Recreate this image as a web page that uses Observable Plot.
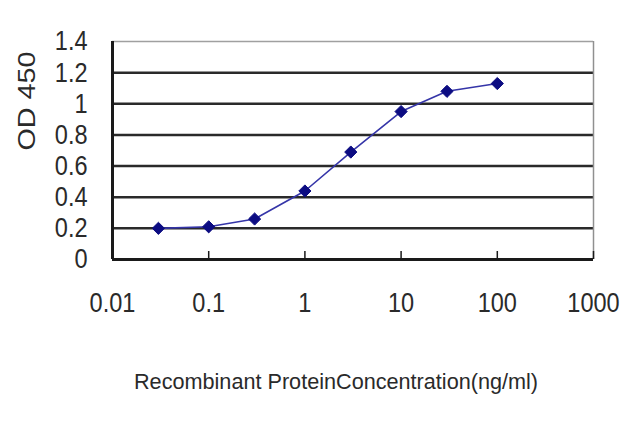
<!DOCTYPE html>
<html>
<head>
<meta charset="utf-8">
<script src="https://cdn.jsdelivr.net/npm/d3@7"></script>
<script src="https://cdn.jsdelivr.net/npm/@observablehq/plot@0.6"></script>
<style>
  html, body { margin: 0; padding: 0; background: #fff; }
  #chart { width: 640px; height: 427px; }
</style>
</head>
<body>
<div id="chart"></div>
<script>
// Data
const concentration = [0.03, 0.1, 0.3, 1, 3, 10, 30, 100];
const od450 = [0.20, 0.21, 0.26, 0.44, 0.69, 0.95, 1.08, 1.13];
const xTicks = [0.01, 0.1, 1, 10, 100, 1000];
const xTickLabels = ["0.01", "0.1", "1", "10", "100", "1000"];
const yTicks = [0, 0.2, 0.4, 0.6, 0.8, 1, 1.2, 1.4];
const yTickLabels = ["0", "0.2", "0.4", "0.6", "0.8", "1", "1.2", "1.4"];
const xTitle = "Recombinant ProteinConcentration(ng/ml)";
const yTitle = "OD 450";

const points = concentration.map((c, i) => ({c, od: od450[i]}));
const innerGrid = yTicks.slice(1, -1);
const yMax = yTicks[yTicks.length - 1];
const xMin = xTicks[0], xMax = xTicks[xTicks.length - 1];

const plot = Plot.plot({
  width: 640,
  height: 427,
  marginLeft: 112,
  marginRight: 47,
  marginTop: 41,
  marginBottom: 168,
  style: {fontFamily: "'Liberation Sans', Arial, sans-serif", background: "#fff", color: "#222"},
  x: {type: "log", domain: [xMin, xMax]},
  y: {domain: [0, yMax]},
  marks: [
    // gridlines
    Plot.ruleY(innerGrid, {stroke: "#2a2a2a", strokeWidth: 2.5}),
    Plot.ruleY([yMax], {stroke: "#a0a0a0", strokeWidth: 1.5}),
    Plot.ruleX([xMax], {stroke: "#909090", strokeWidth: 1.5}),
    // axes lines
    Plot.ruleX([xMin], {stroke: "#1a1a1a", strokeWidth: 3}),
    Plot.ruleY([0], {stroke: "#1a1a1a", strokeWidth: 3}),
    // x ticks (upward)
    Plot.axisX({ticks: xTicks.slice(1), tickSize: -8, tickFormat: () => "", stroke: "#1a1a1a", strokeWidth: 1.5, label: null}),
    // x tick labels
    Plot.axisX({ticks: xTicks, tickSize: 0, tickPadding: 33, tickFormat: d => xTickLabels[xTicks.indexOf(d)], fontSize: 28, fill: "#2a2a2a", label: null}),
    // y tick labels
    Plot.axisY({ticks: yTicks, tickSize: 0, tickPadding: 25, tickFormat: d => yTickLabels[yTicks.indexOf(d)], fontSize: 28, fill: "#2a2a2a", label: null}),
    // series
    Plot.line(points, {x: "c", y: "od", stroke: "#3535a8", strokeWidth: 1.6}),
    Plot.dot(points, {x: "c", y: "od", symbol: "diamond2", r: 5.5, fill: "#0c0c82", stroke: "#0c0c82", strokeWidth: 1}),
    // titles
    Plot.text([xTitle], {frameAnchor: "bottom", dx: -17, dy: 129, fontSize: 22, fill: "#2a2a2a"}),
    Plot.text([yTitle], {frameAnchor: "left", rotate: -90, dx: -85, fontSize: 24, fill: "#2a2a2a"})
  ]
});

document.getElementById("chart").appendChild(plot);

const tickLabelSet = new Set([...xTickLabels, ...yTickLabels]);
d3.select(plot).selectAll("text").each(function() {
  const t = this.textContent;
  if (t === xTitle) {
    this.setAttribute("textLength", 404);
    this.setAttribute("lengthAdjust", "spacingAndGlyphs");
  } else if (t === yTitle) {
    this.setAttribute("textLength", 99);
    this.setAttribute("lengthAdjust", "spacingAndGlyphs");
  } else if (tickLabelSet.has(t)) {
    const len = this.getComputedTextLength();
    if (len > 0) {
      this.setAttribute("textLength", (len * 0.84).toFixed(1));
      this.setAttribute("lengthAdjust", "spacingAndGlyphs");
    }
  }
});
</script>
</body>
</html>
